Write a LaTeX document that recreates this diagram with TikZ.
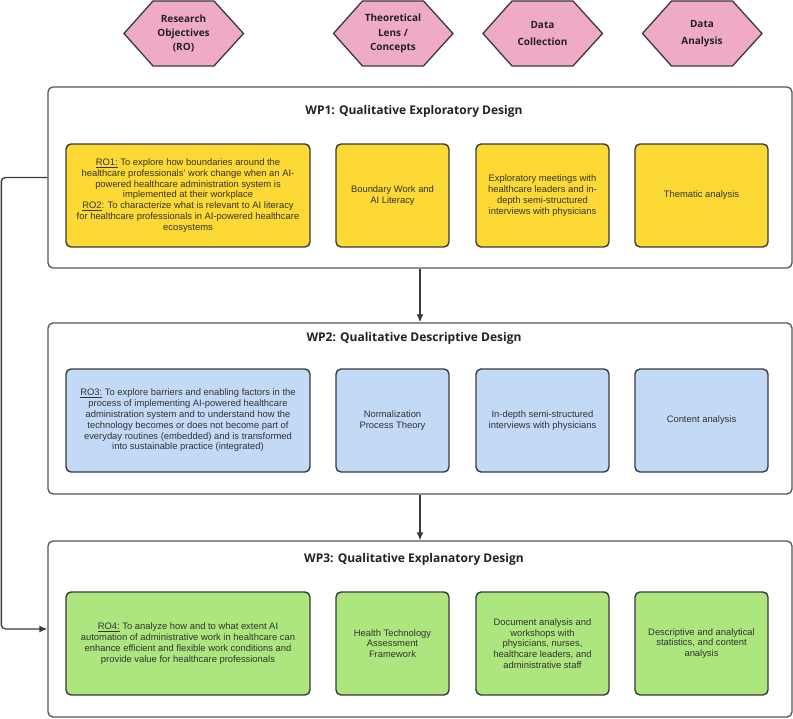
\documentclass[tikz,border=0pt]{standalone}
\usepackage{fontspec}
\setmainfont{Liberation Sans}
\newfontfamily\titlefont{Open Sans}
\usetikzlibrary{calc,arrows.meta}
\definecolor{hexpink}{HTML}{EFAAC8}
\definecolor{cyellow}{HTML}{FDD935}
\definecolor{cblue}{HTML}{C3DAF6}
\definecolor{cgreen}{HTML}{ADE67E}
\definecolor{lineg}{HTML}{3A3A3A}
\definecolor{wpline}{HTML}{555555}
\definecolor{txt}{HTML}{333333}
\definecolor{ttl}{HTML}{222222}
\begin{document}
\begin{tikzpicture}[x=1pt,y=-1pt,
  wp/.style={draw=wpline, line width=1.3pt, rounded corners=5pt, fill=white, minimum width=744pt, inner sep=0pt},
  wptitle/.style={font=\titlefont\bfseries\fontsize{12}{14}\selectfont, text=ttl, inner sep=0pt},
  cell/.style={draw=lineg, line width=1.4pt, rounded corners=5pt, align=center,
    font=\fontsize{9.4}{10.8}\selectfont, text=txt, inner sep=0pt, minimum height=103pt},
  rocell/.style={cell, minimum width=244pt},
  c2/.style={cell, minimum width=113pt},
  c3/.style={cell, minimum width=133pt},
  hextext/.style={font=\titlefont\bfseries\fontsize{10}{14.3}\selectfont, text=ttl, align=center, inner sep=0pt},
  hexline/.style={draw=lineg, line width=1.3pt, fill=hexpink, line join=miter},
  conn/.style={draw=lineg, line width=1.3pt, -{Latex[length=8pt,width=7pt]}}
]
\useasboundingbox (0,0) rectangle (793,719);

% hexagons
\foreach \cx/\nm in {183.5/h1, 393/h2, 542.5/h3, 702/h4}{
  \draw[hexline] (\cx-59.5,33.5) -- ++(29,-32.5) -- ++(61,0) -- ++(29.5,32.5) -- ++(-29.5,32.5) -- ++(-61,0) -- cycle;
}
\node[hextext] (h1) at (183.5,33.5) {Research\\Objectives\\(RO)};
\node[hextext] (h2) at (393,33.5) {Theoretical\\Lens /\\Concepts};
\node[hextext, font=\titlefont\bfseries\fontsize{10}{16.7}\selectfont] (h3) at (542.5,33.5) {Data\\Collection};
\node[hextext, font=\titlefont\bfseries\fontsize{10}{16.7}\selectfont] (h4) at (702,33.5) {Data\\Analysis};

% WP boxes
\node[wp, minimum height=181pt] (wp1) at (420,177.5) {};
\node[wp, minimum height=171pt] (wp2) at (420,408.5) {};
\node[wp, minimum height=176pt] (wp3) at (420,629) {};

\node[wptitle] (t1) at (414,111) {WP1: Qualitative Exploratory Design};
\node[wptitle] (t2) at (414,338) {WP2: Qualitative Descriptive Design};
\node[wptitle] (t3) at (414,559) {WP3: Qualitative Explanatory Design};

% WP1 cells
\node[rocell, fill=cyellow] (a1) at (188,195.5) {\underline{RO1:} To explore how boundaries around the\\healthcare professionals’ work change when an AI-\\powered healthcare administration system is\\implemented at their workplace\\\underline{RO2}: To characterize what is relevant to AI literacy\\for healthcare professionals in AI-powered healthcare\\ecosystems};
\node[c2, fill=cyellow] (a2) at (392.5,195.5) {Boundary Work and\\AI Literacy};
\node[c3, fill=cyellow] (a3) at (542.5,195.5) {Exploratory meetings with\\healthcare leaders and in-\\depth semi-structured\\interviews with physicians};
\node[c3, fill=cyellow] (a4) at (701.5,195.5) {Thematic analysis};

% WP2 cells
\node[rocell, fill=cblue] (b1) at (188,420.5) {\underline{RO3:} To explore barriers and enabling factors in the\\process of implementing AI-powered healthcare\\administration system and to understand how the\\technology becomes or does not become part of\\everyday routines (embedded) and is transformed\\into sustainable practice (integrated)};
\node[c2, fill=cblue] (b2) at (392.5,420.5) {Normalization\\Process Theory};
\node[c3, fill=cblue] (b3) at (542.5,420.5) {In-depth semi-structured\\interviews with physicians};
\node[c3, fill=cblue] (b4) at (701.5,420.5) {Content analysis};

% WP3 cells
\node[rocell, fill=cgreen] (g1) at (188,643.5) {\underline{RO4:} To analyze how and to what extent AI\\automation of administrative work in healthcare can\\enhance efficient and flexible work conditions and\\provide value for healthcare professionals};
\node[c2, fill=cgreen] (g2) at (392.5,643.5) {Health Technology\\Assessment\\Framework};
\node[c3, fill=cgreen] (g3) at (542.5,643.5) {Document analysis and\\workshops with\\physicians, nurses,\\healthcare leaders, and\\administrative staff};
\node[c3, fill=cgreen] (g4) at (701.5,643.5) {Descriptive and analytical\\statistics, and content\\analysis};

% connectors
\draw[conn] (wp1.south) -- (wp2.north);
\draw[conn] (wp2.south) -- (wp3.north);
\draw[conn, rounded corners=4pt] (wp1.west) -- ++(-46,0) |- (wp3.west);
\end{tikzpicture}
\end{document}
